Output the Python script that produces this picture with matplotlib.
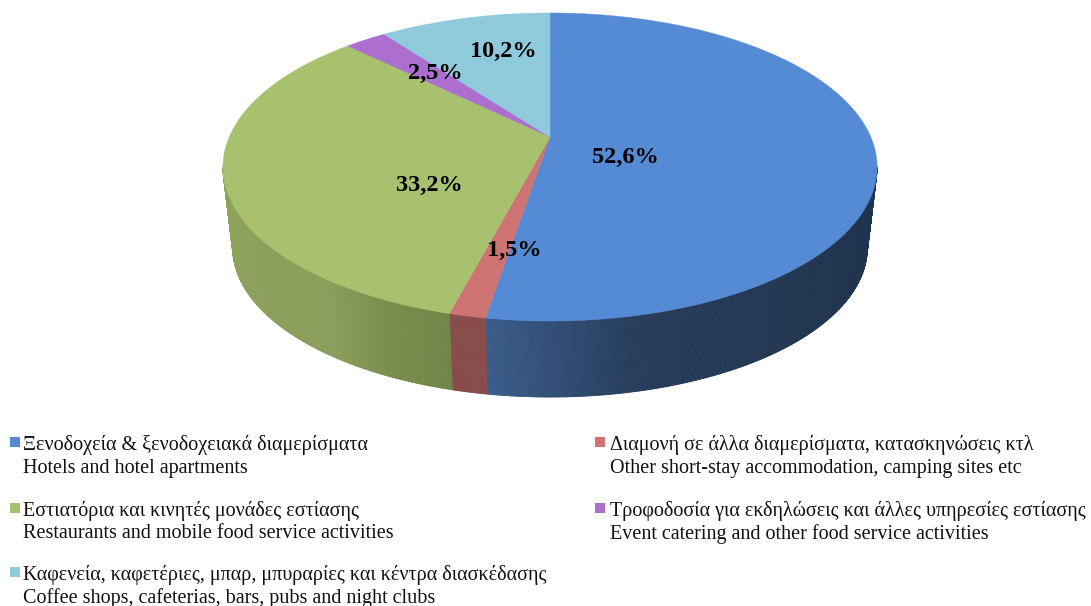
import matplotlib
matplotlib.use('Agg')
import matplotlib.pyplot as plt
import numpy as np
from matplotlib.collections import PolyCollection
from matplotlib.patches import Rectangle

# slices clockwise from 12 o'clock
values = [52.6, 1.5, 33.2, 2.5, 10.2]
pct_labels = ['52,6%', '1,5%', '33,2%', '2,5%', '10,2%']
greek = ['Ξενοδοχεία & ξενοδοχειακά διαμερίσματα',
         'Διαμονή σε άλλα διαμερίσματα, κατασκηνώσεις κτλ',
         'Εστιατόρια και κινητές μονάδες εστίασης',
         'Τροφοδοσία για εκδηλώσεις και άλλες υπηρεσίες εστίασης',
         'Καφενεία, καφετέριες, μπαρ, μπυραρίες και κέντρα διασκέδασης']
english = ['Hotels and hotel apartments',
           'Other short-stay accommodation, camping sites etc',
           'Restaurants and mobile food service activities',
           'Event catering and other food service activities',
           'Coffee shops, cafeterias, bars, pubs and night clubs']
top_colors = ['#558ad4', '#cd7371', '#a7c16e', '#ac6fd0', '#8fc9dc']

# side wall shade, (x pixel, rgb) stops per slice
wall_stops = [
    [(487, (58, 92, 138)), (640, (38, 60, 90)), (870, (33, 52, 79))],
    [(450, (136, 76, 74)), (490, (136, 76, 74))],
    [(225, (142, 162, 92)), (330, (138, 157, 90)), (385, (122, 141, 76)), (455, (112, 132, 72))],
    [(340, (100, 60, 130)), (390, (100, 60, 130))],
    [(390, (90, 130, 145)), (550, (90, 130, 145))],
]

# pie geometry in pixels, tilt gives the perspective look
cx = 550
apex_top = 137
apex_bottom = 218.5
k = 0.1948
a = 148.2
b = 320.8
bottom_scale = 0.97

label_pos = [(625, 157), (514, 250), (429, 185), (435, 73), (503, 51)]
legend_rows = [445, 445, 511, 511, 575]
legend_cols = [10, 595, 10, 595, 10]
legend_text_x = [23, 610, 23, 610, 23]


def project(theta, apex_y, scale=1.0):
    # theta in radians, clockwise from top
    s, c = np.sin(theta), np.cos(theta)
    w = 1 + k * c
    return cx + scale * b * s / w, apex_y - scale * a * c / w


def wall_color(stops, x):
    xs = [p[0] for p in stops]
    rgb = [np.interp(x, xs, [p[1][i] for p in stops]) / 255 for i in range(3)]
    return tuple(rgb)


fig = plt.figure(figsize=(10.91, 6.06), dpi=100)
ax = fig.add_axes([0, 0, 1, 1])
ax.set_xlim(0, 1091)
ax.set_ylim(606, 0)
ax.axis('off')

edges = np.cumsum([0] + values) / sum(values) * 2 * np.pi

# side wall first, only the part facing the viewer so no dark rim shows at the back
polys, cols = [], []
for i in range(len(values)):
    n = max(int(values[i] * 12), 4)
    th = np.linspace(edges[i], edges[i + 1], n + 1)
    tx, ty = project(th, apex_top)
    bx, by = project(th, apex_bottom, bottom_scale)
    for j in range(n):
        if np.cos((th[j] + th[j + 1]) / 2) > -k:
            continue
        polys.append([(tx[j], ty[j]), (tx[j + 1], ty[j + 1]), (bx[j + 1], by[j + 1]), (bx[j], by[j])])
        cols.append(wall_color(wall_stops[i], (tx[j] + tx[j + 1]) / 2))
ax.add_collection(PolyCollection(polys, facecolors=cols, edgecolors=cols, linewidths=0.6))

for i in range(len(values)):
    th = np.linspace(edges[i], edges[i + 1], int(values[i] * 8) + 8)
    x, y = project(th, apex_top)
    ax.fill(np.r_[cx, x], np.r_[apex_top, y], color=top_colors[i], lw=0.3)

for lab, (x, y) in zip(pct_labels, label_pos):
    ax.text(x, y, lab, ha='center', va='center', family='Liberation Serif',
            fontweight='bold', fontsize=17.5, color='black')

for i in range(len(greek)):
    x0, y0 = legend_cols[i], legend_rows[i]
    ax.add_patch(Rectangle((x0, y0 - 8), 10, 10, color=top_colors[i], lw=0))
    ax.text(legend_text_x[i], y0, greek[i], va='center', family='Liberation Serif', fontsize=14.5, color='#111111')
    ax.text(legend_text_x[i], y0 + 23, english[i], va='center', family='Liberation Serif', fontsize=14.5, color='#111111')

fig.savefig('out.png', dpi=100)
